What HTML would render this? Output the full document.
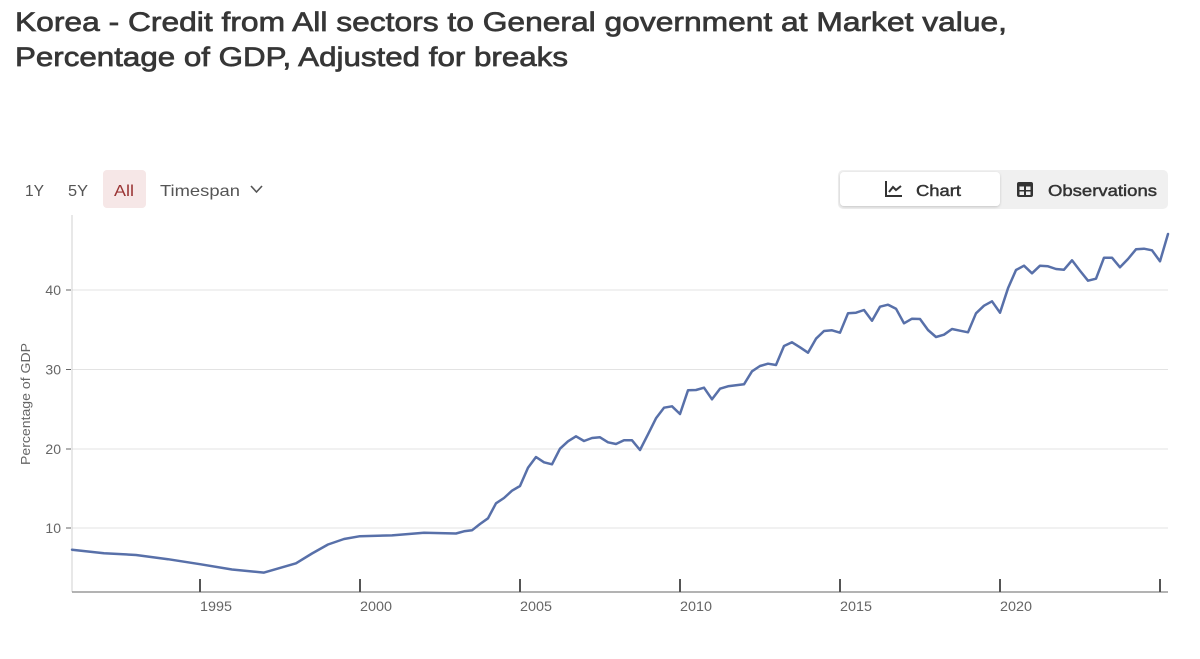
<!DOCTYPE html>
<html>
<head>
<meta charset="utf-8">
<style>
  html,body{margin:0;padding:0;background:#fff;}
  body{width:1200px;height:659px;overflow:hidden;}
  svg{display:block;}
  text{font-family:"Liberation Sans", Arial, sans-serif;}
</style>
</head>
<body>
<svg width="1200" height="659" viewBox="0 0 1200 659" xmlns="http://www.w3.org/2000/svg">
  <defs>
    <filter id="sh" x="-10%" y="-30%" width="120%" height="160%">
      <feDropShadow dx="0" dy="1" stdDeviation="1.2" flood-color="#000" flood-opacity="0.18"/>
    </filter>
  </defs>

  <!-- Title -->
  <text x="15" y="31" font-size="27" fill="#363636" stroke="#363636" stroke-width="0.7" textLength="992" lengthAdjust="spacingAndGlyphs">Korea - Credit from All sectors to General government at Market value,</text>
  <text x="15" y="66" font-size="27" fill="#363636" stroke="#363636" stroke-width="0.7" textLength="553" lengthAdjust="spacingAndGlyphs">Percentage of GDP, Adjusted for breaks</text>

  <!-- Timespan controls -->
  <text x="25" y="196" font-size="16" fill="#555" textLength="19" lengthAdjust="spacingAndGlyphs">1Y</text>
  <text x="68" y="196" font-size="16" fill="#555" textLength="20" lengthAdjust="spacingAndGlyphs">5Y</text>
  <rect x="103" y="170" width="43" height="38" rx="4" fill="#f6e7e7"/>
  <text x="114" y="196" font-size="16" fill="#9a3434" textLength="20" lengthAdjust="spacingAndGlyphs">All</text>
  <text x="160" y="196" font-size="16" fill="#555" textLength="80" lengthAdjust="spacingAndGlyphs">Timespan</text>
  <polyline points="251,186 256.5,192 262,186" fill="none" stroke="#555" stroke-width="1.6"/>

  <!-- Chart / Observations toggle -->
  <rect x="838" y="170" width="330" height="39" rx="5" fill="#f0f0f0"/>
  <rect x="840" y="172" width="160" height="34" rx="4" fill="#fff" filter="url(#sh)"/>
  <!-- chart icon -->
  <polyline points="886,181 886,196 902,196" fill="none" stroke="#333" stroke-width="2"/>
  <polyline points="889,192 893,187 896,190 901,186" fill="none" stroke="#333" stroke-width="2"/>
  <text x="916" y="196" font-size="16" fill="#333" stroke="#333" stroke-width="0.45" textLength="45" lengthAdjust="spacingAndGlyphs">Chart</text>
  <!-- table icon -->
  <rect x="1017" y="182" width="16" height="15" rx="2" fill="#333"/>
  <rect x="1019.5" y="186.5" width="4.5" height="3.5" fill="#f0f0f0"/>
  <rect x="1026" y="186.5" width="4.5" height="3.5" fill="#f0f0f0"/>
  <rect x="1019.5" y="191.5" width="4.5" height="3.5" fill="#f0f0f0"/>
  <rect x="1026" y="191.5" width="4.5" height="3.5" fill="#f0f0f0"/>
  <text x="1048" y="196" font-size="16" fill="#333" stroke="#333" stroke-width="0.45" textLength="109" lengthAdjust="spacingAndGlyphs">Observations</text>

  <!-- Gridlines -->
  <g stroke="#e3e3e3" stroke-width="1">
    <line x1="72" y1="290" x2="1168" y2="290"/>
    <line x1="72" y1="369.5" x2="1168" y2="369.5"/>
    <line x1="72" y1="449" x2="1168" y2="449"/>
    <line x1="72" y1="528" x2="1168" y2="528"/>
  </g>

  <!-- Y axis -->
  <line x1="72" y1="215" x2="72" y2="592" stroke="#d0d0d0" stroke-width="1"/>
  <g stroke="#666" stroke-width="1">
    <line x1="66" y1="290" x2="71" y2="290"/>
    <line x1="66" y1="369.5" x2="71" y2="369.5"/>
    <line x1="66" y1="449" x2="71" y2="449"/>
    <line x1="66" y1="528" x2="71" y2="528"/>
  </g>
  <g font-size="14" fill="#666" text-anchor="end">
    <text x="61" y="295">40</text>
    <text x="61" y="374.5">30</text>
    <text x="61" y="454">20</text>
    <text x="61" y="533">10</text>
  </g>
  <text transform="translate(30,404) rotate(-90)" font-size="13" fill="#666" text-anchor="middle" textLength="122" lengthAdjust="spacingAndGlyphs">Percentage of GDP</text>

  <!-- X axis -->
  <line x1="72" y1="592" x2="1168" y2="592" stroke="#9a9a9a" stroke-width="1.5"/>
  <g stroke="#555" stroke-width="2">
    <line x1="200" y1="579" x2="200" y2="592"/>
    <line x1="360" y1="579" x2="360" y2="592"/>
    <line x1="520" y1="579" x2="520" y2="592"/>
    <line x1="680" y1="579" x2="680" y2="592"/>
    <line x1="840" y1="579" x2="840" y2="592"/>
    <line x1="1000" y1="579" x2="1000" y2="592"/>
    <line x1="1160" y1="579" x2="1160" y2="592"/>
  </g>
  <g font-size="14" fill="#666">
    <text x="200" y="611" textLength="32" lengthAdjust="spacingAndGlyphs">1995</text>
    <text x="360" y="611" textLength="32" lengthAdjust="spacingAndGlyphs">2000</text>
    <text x="520" y="611" textLength="32" lengthAdjust="spacingAndGlyphs">2005</text>
    <text x="680" y="611" textLength="32" lengthAdjust="spacingAndGlyphs">2010</text>
    <text x="840" y="611" textLength="32" lengthAdjust="spacingAndGlyphs">2015</text>
    <text x="1000" y="611" textLength="32" lengthAdjust="spacingAndGlyphs">2020</text>
  </g>

  <!-- Series -->
  <polyline fill="none" stroke="#5870a9" stroke-width="2.5" stroke-linejoin="round" stroke-linecap="round"
    points="72,549.7 104,553.2 136,555 168,559.2 200,564.2 232,569.5 264,572.6 296,563.3 312,553.5 328,544.5 344,539 360,536.2 392,535.4 424,532.8 456,533.5 464,531.3 472,530.3 480,524 488,518.3 496,503.3 504,498 512,490.7 520,486 528,467.7 536,457 544,462.3 552,464.3 560,448.7 568,441.3 576,436.3 584,441 592,438 600,437.3 608,442.3 616,444 624,440.3 632,440.3 640,450 648,434.3 656,418.3 664,407.7 672,406.3 680,414 688,390.3 696,390 704,387.7 712,399.3 720,388.7 728,386.3 736,385.3 744,384.3 752,371.3 760,366 768,363.7 776,365 784,346 792,342.3 800,347.3 808,352.7 816,338.7 824,331 832,330.3 840,332.7 848,313.3 856,312.7 864,310 872,320.7 880,306.7 888,304.7 896,308.7 904,323.3 912,318.7 920,319 928,330 936,337 944,334.7 952,329 960,330.7 968,332.3 976,313.3 984,305.7 992,301.3 1000,312.7 1008,288.3 1016,270 1024,265.7 1032,273.3 1040,265.7 1048,266.3 1056,269 1064,269.7 1072,260.3 1080,270.7 1088,280.7 1096,278.7 1104,257.7 1112,257.7 1120,267.3 1128,259 1136,249.3 1144,248.7 1152,250.3 1160,261.3 1168,234"/>
</svg>
</body>
</html>
